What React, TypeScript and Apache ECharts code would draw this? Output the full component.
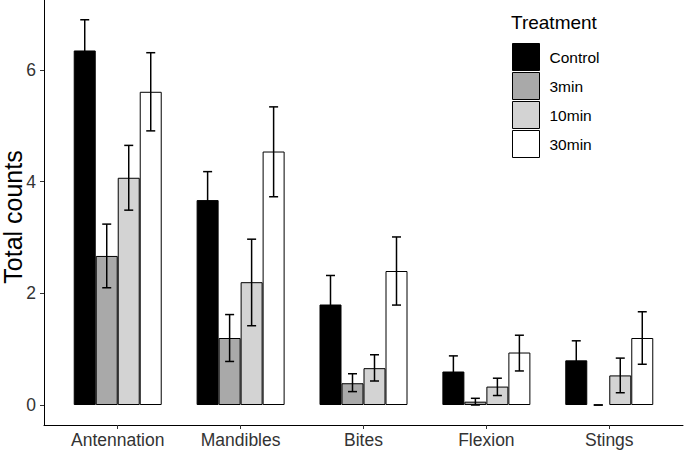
import React, { useEffect, useRef } from "react";
import * as echarts from "echarts";

const categories = ["Antennation", "Mandibles", "Bites", "Flexion", "Stings"];
const treatments = ["Control", "3min", "10min", "30min"];
const colors = ["#000000", "#A9A9A9", "#D3D3D3", "#FFFFFF"];

const controlMean = [6.35, 3.67, 1.8, 0.6, 0.8];
const controlUpper = [6.9, 4.18, 2.32, 0.88, 1.15];
const controlLower = [5.8, 3.16, 1.28, 0.32, 0.45];

const min3Mean = [2.67, 1.2, 0.39, 0.06, 0];
const min3Upper = [3.24, 1.62, 0.56, 0.12, 0];
const min3Lower = [2.1, 0.78, 0.24, 0.0, 0];

const min10Mean = [4.07, 2.2, 0.66, 0.33, 0.53];
const min10Upper = [4.65, 2.97, 0.9, 0.48, 0.84];
const min10Lower = [3.49, 1.42, 0.43, 0.17, 0.22];

const min30Mean = [5.61, 4.54, 2.4, 0.94, 1.2];
const min30Upper = [6.31, 5.34, 3.01, 1.25, 1.67];
const min30Lower = [4.91, 3.73, 1.79, 0.61, 0.73];

const yTicks = [0, 2, 4, 6];
const yTitle = "Total counts";
const legendTitle = "Treatment";

const means = [controlMean, min3Mean, min10Mean, min30Mean];
const uppers = [controlUpper, min3Upper, min10Upper, min30Upper];
const lowers = [controlLower, min3Lower, min10Lower, min30Lower];

const FONT = "Liberation Sans, Arial, Helvetica, sans-serif";
const BAR_W = 22;

export default function App() {
  const ref = useRef<HTMLDivElement>(null);

  useEffect(() => {
    if (!ref.current) return;
    const chart = echarts.init(ref.current, null, { renderer: "svg" });

    const xPositions = categories.map((_, i) => i + 1);

    const barSeries = treatments.map((t, s) => ({
      name: t,
      type: "bar",
      barWidth: BAR_W,
      barGap: "0%",
      itemStyle: { color: colors[s], borderColor: "#000", borderWidth: 1 },
      data: means[s].map((v, i) =>
        v === 0
          ? { value: [xPositions[i], v], itemStyle: { borderWidth: 0 } }
          : { value: [xPositions[i], v] }
      ),
      z: 2,
    }));

    const errData: number[][] = [];
    treatments.forEach((_, s) => {
      categories.forEach((_, i) => {
        errData.push([xPositions[i], lowers[s][i], uppers[s][i], s]);
      });
    });

    const errorSeries = {
      type: "custom",
      name: "err",
      z: 5,
      encode: { x: 0, y: [1, 2] },
      data: errData,
      renderItem: (params: any, api: any) => {
        const x = api.value(0);
        const lo = api.value(1);
        const hi = api.value(2);
        const s = api.value(3);
        const pHi = api.coord([x, hi]);
        const pLo = api.coord([x, lo]);
        const cx = pHi[0] + (s - 1.5) * BAR_W;
        const hw = 4.5;
        const style = { stroke: "#000", lineWidth: 1.5 };
        return {
          type: "group",
          children: [
            { type: "line", shape: { x1: cx, y1: pHi[1], x2: cx, y2: pLo[1] }, style },
            { type: "line", shape: { x1: cx - hw, y1: pHi[1], x2: cx + hw, y2: pHi[1] }, style },
            { type: "line", shape: { x1: cx - hw, y1: pLo[1], x2: cx + hw, y2: pLo[1] }, style },
          ],
        };
      },
    };

    chart.setOption({
      animation: false,
      backgroundColor: "#ffffff",
      textStyle: { fontFamily: FONT },
      title: {
        text: legendTitle,
        left: 511,
        top: 13,
        padding: 0,
        textStyle: { fontSize: 19, fontWeight: "normal", color: "#000", fontFamily: FONT },
      },
      graphic: [
        {
          type: "text",
          x: 12.5,
          y: 217,
          rotation: Math.PI / 2,
          style: {
            text: yTitle,
            fontSize: 25,
            lineHeight: 20,
            fontFamily: FONT,
            fill: "#000",
            align: "center",
            verticalAlign: "middle",
          },
        },
      ],
      legend: {
        data: treatments,
        orient: "vertical",
        left: 512,
        top: 43,
        padding: 0,
        itemWidth: 27,
        itemHeight: 27,
        itemGap: 1,
        icon: "rect",
        selectedMode: false,
        itemStyle: { borderColor: "#000", borderWidth: 1 },
        textStyle: { fontSize: 15.5, color: "#000", fontFamily: FONT, padding: [0, 0, 0, 5] },
      },
      grid: {
        left: 44,
        right: 2,
        top: 0,
        bottom: 25,
        containLabel: false,
        outerBoundsMode: "none",
      },
      xAxis: {
        type: "value",
        min: 0.4,
        max: 5.6,
        splitLine: { show: false },
        axisLine: { show: true, onZero: false, lineStyle: { color: "#000", width: 1 } },
        axisTick: { show: true, length: 4, customValues: xPositions, lineStyle: { color: "#333" } },
        axisLabel: {
          customValues: xPositions,
          formatter: (v: number) => categories[Math.round(v) - 1] ?? "",
          fontSize: 17.5,
          color: "#333",
          margin: 6,
          fontFamily: FONT,
        },
      },
      yAxis: {
        type: "value",
        min: -0.358,
        max: 7.254,
        splitLine: { show: false },
        axisLine: { show: true, onZero: false, lineStyle: { color: "#000", width: 1 } },
        axisTick: { show: true, length: 4, customValues: yTicks, lineStyle: { color: "#333" } },
        axisLabel: { customValues: yTicks, fontSize: 17.5, color: "#333", margin: 8, fontFamily: FONT },
      },
      series: [...barSeries, errorSeries],
    });

    return () => chart.dispose();
  }, []);

  return (
    <div
      ref={ref}
      style={{ position: "fixed", left: 0, top: 0, width: 685, height: 450 }}
    />
  );
}
